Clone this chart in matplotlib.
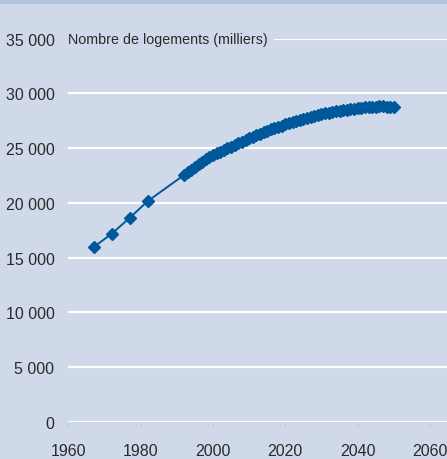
import numpy as np
import matplotlib.pyplot as plt
from matplotlib.patches import Rectangle

# Nombre de logements (milliers) - recensements puis projection annuelle
annees_rp = [1967, 1972, 1977, 1982]
logements_rp = [15970, 17190, 18650, 20180]

annees_proj = list(range(1992, 2051))
logements_proj = [22550, 22800, 23050, 23300, 23530, 23760, 23970, 24170, 24350, 24520,
                  24690, 24850, 25000, 25150, 25300, 25450, 25600, 25750, 25900, 26040,
                  26180, 26320, 26450, 26580, 26710, 26830, 26950, 27070, 27180, 27290,
                  27400, 27500, 27600, 27700, 27790, 27880, 27960, 28040, 28110, 28180,
                  28250, 28310, 28370, 28430, 28480, 28530, 28580, 28620, 28660, 28700,
                  28730, 28760, 28780, 28800, 28810, 28810, 28800, 28780, 28740]

xticks = [1960, 1980, 2000, 2020, 2040, 2060]
yticks = [0, 5000, 10000, 15000, 20000, 25000, 30000, 35000]

fond = '#d0d9ea'
bleu = '#00589c'

plt.rcParams['font.family'] = ['Liberation Sans', 'DejaVu Sans']

fig = plt.figure(figsize=(4.47, 4.60), dpi=100, facecolor=fond)
# bandeau du haut
fig.patches.append(Rectangle((0, 1 - 5/460.), 1, 5/460., transform=fig.transFigure,
                             facecolor='#b4c4df', edgecolor='none'))

ax = fig.add_axes([68.3/447, 37/460., 1 - 68.3/447, (423 - 39.7)/460.])
ax.set_facecolor(fond)

x_all = annees_rp + annees_proj
y_all = logements_rp + logements_proj
ax.plot(x_all, y_all, color=bleu, lw=1.4, zorder=3)
ax.plot(x_all, y_all, ls='none', marker='D', ms=6.3, color=bleu, mec=bleu, zorder=4)

ax.set_xlim(1960, 2064.7)
ax.set_ylim(0, 35000)
ax.set_yticks(yticks)
ax.set_yticklabels(['{:,}'.format(v).replace(',', ' ') for v in yticks])
ax.set_xticks(xticks)
ax.set_xticklabels([str(v) for v in xticks])

for s in ax.spines.values():
    s.set_visible(False)
ax.grid(axis='y', color='white', lw=1.6, zorder=1)
ax.set_axisbelow(True)
ax.tick_params(axis='y', length=0, pad=10, labelsize=11.5, labelcolor='#2a2a2a')
ax.tick_params(axis='x', length=3, width=0.6, color='#b8bfcc', pad=12,
               labelsize=11.5, labelcolor='#2a2a2a')

ax.text(0, 35000, 'Nombre de logements (milliers)', transform=ax.get_yaxis_transform(),
        ha='left', va='center', fontsize=10.3, color='#2a2a2a', zorder=5,
        bbox=dict(facecolor=fond, edgecolor='none', pad=4))

plt.savefig('out.png', dpi=100, facecolor=fond)
